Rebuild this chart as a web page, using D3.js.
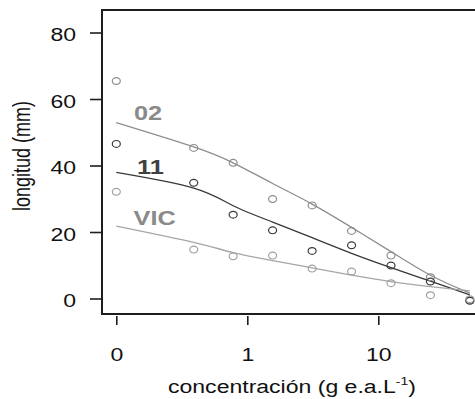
<!DOCTYPE html>
<html>
<head>
<meta charset="utf-8">
<script src="https://cdn.jsdelivr.net/npm/d3@7/dist/d3.min.js"></script>
<style>
  html, body { margin: 0; padding: 0; background: #fff; }
  svg { display: block; font-family: "Liberation Sans", Arial, sans-serif; }
</style>
</head>
<body>
<svg id="chart" width="475" height="399"></svg>
<script>
// Concentrations (g e.a. L^-1); 0 is the control and sits one decade below 1
const concentrations = [0, 0.39, 0.78, 1.56, 3.125, 6.25, 12.5, 25, 50];

// Observed lengths (mm) per population
const obs02  = [65.4, 45.3, 40.8, 29.9, 28.0, 20.3, 12.9, 6.4, -0.5];
const obs11  = [46.5, 34.8, 25.2, 20.5, 14.3, 16.0, 9.9, 5.1, -0.7];
const obsVIC = [32.1, 14.7, 12.7, 12.9, 9.0, 8.1, 4.6, 1.0, -0.2];

// Fitted dose-response curves (mm) at the same concentrations
const fit02  = [52.9, 45.6, 40.8, 34.6, 28.4, 21.4, 14.1, 7.0, 1.6];
const fit11  = [37.9, 33.2, 27.9, 23.0, 18.3, 13.6, 9.3, 5.2, 1.1];
const fitVIC = [21.8, 16.9, 13.8, 11.4, 9.2, 7.0, 5.1, 3.6, 2.3];

const seriesNames = ["02", "11", "VIC"];
const xTickValues = [0, 1, 10];
const yTickValues = [0, 20, 40, 60, 80];

const series = [
  { name: seriesNames[0], obs: obs02,  fit: fit02,  line: "#8e8e8e", pt: "#8c8c8c", label: "#8a8a8a", lx: 134, ly: 120 },
  { name: seriesNames[1], obs: obs11,  fit: fit11,  line: "#383838", pt: "#3a3a3a", label: "#404040", lx: 137, ly: 173.5 },
  { name: seriesNames[2], obs: obsVIC, fit: fitVIC, line: "#a6a6a6", pt: "#a0a0a0", label: "#8a8a8a", lx: 133.5, ly: 225 }
];

// Lettering is set slightly wide
const SX = 1.28;

const svg = d3.select("#chart");
const frame = { left: 102, top: 10, bottom: 314, right: 476 };

// Control (0) is drawn at 0.1 on the log axis
const cx = c => (c === 0 ? 0.1 : c);
const x = d3.scaleLog().domain([0.1, 10]).range([116.3, 378.3]);
const y = d3.scaleLinear().domain([0, 80]).range([298.5, 32.5]);

// Frame: left, top and bottom rules
svg.append("path")
  .attr("d", `M${frame.right},${frame.top}H${frame.left}V${frame.bottom}H${frame.right}`)
  .attr("stroke", "#1e1e1e").attr("stroke-width", 2).attr("fill", "none");

// Widen a text element horizontally about its anchor point
function widen(sel, sx) {
  sel.each(function () {
    const t = d3.select(this);
    const tx = +t.attr("x") || 0;
    t.attr("x", 0).attr("transform", `translate(${tx},0) scale(${sx},1)`);
  });
}

// Y axis
const yAxis = svg.append("g")
  .attr("transform", `translate(${frame.left},0)`)
  .call(d3.axisLeft(y).tickValues(yTickValues).tickSize(12).tickPadding(14));
yAxis.select(".domain").remove();
yAxis.selectAll(".tick line").attr("stroke", "#1e1e1e").attr("stroke-width", 1.6);
yAxis.selectAll(".tick text").attr("font-size", 18).attr("fill", "#111")
  .attr("font-family", "Liberation Sans, Arial, sans-serif")
  .attr("dy", "0.45em")
  .call(widen, SX);

// X axis
const xAxis = svg.append("g")
  .attr("transform", `translate(0,${frame.bottom + 2})`)
  .call(d3.axisBottom(x).tickValues(xTickValues.map(cx))
    .tickFormat((d, i) => String(xTickValues[i])).tickSize(9).tickPadding(23));
xAxis.select(".domain").remove();
xAxis.selectAll(".tick line").attr("stroke", "#1e1e1e").attr("stroke-width", 1.6);
xAxis.selectAll(".tick text").attr("font-size", 18).attr("fill", "#111")
  .attr("font-family", "Liberation Sans, Arial, sans-serif")
  .call(widen, SX);

// Axis titles
svg.append("text")
  .attr("transform", `translate(30,156) scale(${SX},1) rotate(-90)`)
  .attr("text-anchor", "middle")
  .attr("font-size", 18).attr("fill", "#111")
  .text("longitud (mm)");

const xt = svg.append("text")
  .attr("transform", `translate(292,393) scale(${SX},1)`)
  .attr("text-anchor", "middle")
  .attr("font-size", 18).attr("fill", "#111");
xt.append("tspan").text("concentración  (g e.a.L");
xt.append("tspan").attr("dy", -8).attr("font-size", 11).text("-1");
xt.append("tspan").attr("dy", 8).text(")");

// Fitted curves
const lineGen = d3.line()
  .x((d, i) => x(cx(concentrations[i])))
  .y(d => y(d))
  .curve(d3.curveNatural);

const g = svg.append("g");
series.forEach(s => {
  g.append("path")
    .attr("d", lineGen(s.fit))
    .attr("fill", "none")
    .attr("stroke", s.line)
    .attr("stroke-width", 1.3);
});

// Observed points
series.forEach(s => {
  g.selectAll(null)
    .data(s.obs)
    .enter()
    .append("ellipse")
    .attr("cx", (d, i) => x(cx(concentrations[i])))
    .attr("cy", d => y(d))
    .attr("rx", 4).attr("ry", 3.4)
    .attr("fill", "none")
    .attr("stroke", s.pt)
    .attr("stroke-width", 1.2);
});

// Series labels
series.forEach(s => {
  svg.append("text")
    .attr("transform", `translate(${s.lx},${s.ly}) scale(1.3,1)`)
    .attr("font-size", 19.5).attr("font-weight", "bold")
    .attr("fill", s.label)
    .text(s.name);
});
</script>
</body>
</html>
